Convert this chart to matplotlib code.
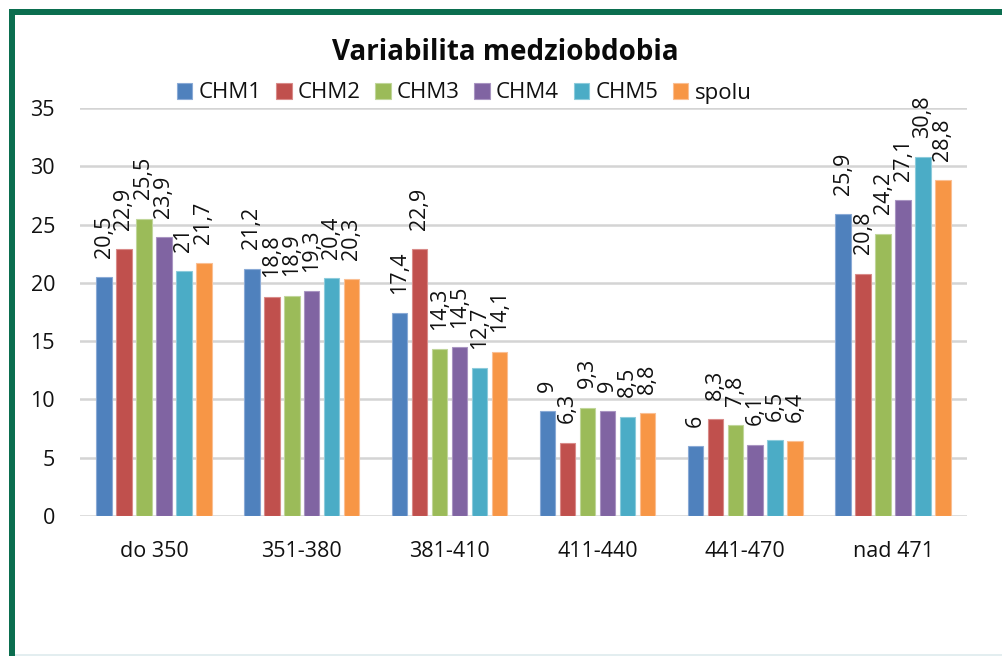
import matplotlib
matplotlib.use("Agg")
import matplotlib.pyplot as plt
from matplotlib.patches import Rectangle
import numpy as np

plt.rcParams['font.family'] = ['Open Sans', 'DejaVu Sans']

categories = ["do 350", "351-380", "381-410", "411-440", "441-470", "nad 471"]
series_names = ["CHM1", "CHM2", "CHM3", "CHM4", "CHM5", "spolu"]
chm1 = [20.5, 21.2, 17.4, 9.0, 6.0, 25.9]
chm2 = [22.9, 18.8, 22.9, 6.3, 8.3, 20.8]
chm3 = [25.5, 18.9, 14.3, 9.3, 7.8, 24.2]
chm4 = [23.9, 19.3, 14.5, 9.0, 6.1, 27.1]
chm5 = [21.0, 20.4, 12.7, 8.5, 6.5, 30.8]
spolu = [21.7, 20.3, 14.1, 8.8, 6.4, 28.8]
series_values = [chm1, chm2, chm3, chm4, chm5, spolu]
colors = ["#4F81BD", "#C0504D", "#9BBB59", "#8064A2", "#4BACC6", "#F79646"]
edge_colors = ["#8AAAD6", "#D98B89", "#C0D69A", "#A995C2", "#8CCBDB", "#FABF93"]
y_ticks = [0, 5, 10, 15, 20, 25, 30, 35]
title = "Variabilita medziobdobia"

W, H = 1002, 656
fig = plt.figure(figsize=(W / 100, H / 100), dpi=100)
fig.patch.set_facecolor("white")

ax = fig.add_axes([80 / W, 1 - 516 / H, (967 - 80) / W, (516 - 108) / H])
ax.set_facecolor("none")

x = np.arange(len(categories))
step = 0.135
width = 0.105
n = len(series_names)
for i, (name, vals, c, ec) in enumerate(zip(series_names, series_values, colors, edge_colors)):
    pos = x + (i - (n - 1) / 2) * step
    bars = ax.bar(pos, vals, width=width, color=c, edgecolor=ec, linewidth=0.8,
                  label=name, zorder=3)
    for b, v in zip(bars, vals):
        txt = (f"{v:g}").replace(".", ",")
        ax.annotate(txt, (b.get_x() + b.get_width() / 2, v),
                    xytext=(0, 14), textcoords="offset points",
                    rotation=90, ha="center", va="bottom",
                    fontsize=15.5, color="#111111", zorder=4)

ax.set_xlim(-0.5, len(categories) - 0.5)
ax.set_ylim(0, 35)
ax.set_yticks(y_ticks)
ax.set_yticklabels([str(t) for t in y_ticks])
ax.set_xticks(x)
ax.set_xticklabels(categories)
ax.tick_params(axis="both", length=0, labelsize=15.5, colors="#111111")
ax.tick_params(axis="y", pad=18)
ax.tick_params(axis="x", pad=18)
for s in ax.spines.values():
    s.set_visible(False)
ax.yaxis.grid(True, color="#D4D4D4", linewidth=1.8, zorder=0)
ax.set_axisbelow(True)

fig.text(505 / W, 1 - 52 / H, title, ha="center", va="center",
         fontsize=20, fontweight="bold", color="#0a0a0a")

leg = ax.legend(loc="center", bbox_to_anchor=(464 / W, 1 - 93 / H),
                bbox_transform=fig.transFigure, ncol=6, frameon=False,
                fontsize=16, handlelength=0.7, handleheight=0.7,
                handletextpad=0.28, columnspacing=0.65, borderpad=0)
for t in leg.get_texts():
    t.set_color("#111111")

# green frame (top and left) and faint bottom line
green = "#0B6E4F"
fig.add_artist(Rectangle((9 / W, 1 - 15 / H), (W - 9) / W, 6 / H,
                         transform=fig.transFigure, color=green, lw=0))
fig.add_artist(Rectangle((9 / W, 0), 6 / W, 1 - 9 / H,
                         transform=fig.transFigure, color=green, lw=0))
fig.add_artist(Rectangle((15 / W, 0), (W - 15) / W, 2 / H,
                         transform=fig.transFigure, color="#E3EEF0", lw=0))

fig.savefig("out.png", dpi=100)
